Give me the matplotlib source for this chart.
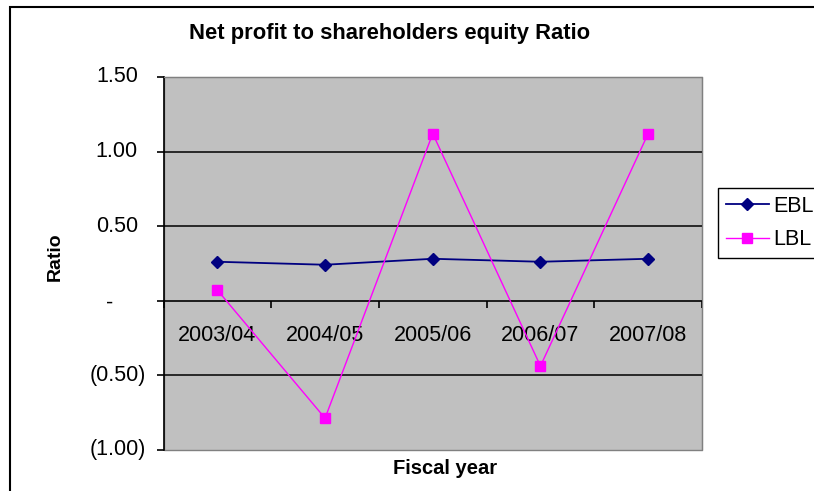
import matplotlib
matplotlib.use("Agg")
import matplotlib.pyplot as plt
from matplotlib.patches import Rectangle
from matplotlib.transforms import offset_copy, blended_transform_factory

plt.rcParams['font.family'] = ['Liberation Sans', 'DejaVu Sans']

years = ["2003/04", "2004/05", "2005/06", "2006/07", "2007/08"]
ebl = [0.26, 0.24, 0.28, 0.26, 0.28]
lbl = [0.07, -0.79, 1.12, -0.44, 1.12]
yticks = [-1.0, -0.5, 0.0, 0.5, 1.0, 1.5]


def acct(v):
    # excel accounting style labels
    if v == 0:
        return "-"
    if v < 0:
        return "(%.2f)" % abs(v)
    return "%.2f" % v


W, H = 814, 491
fig = plt.figure(figsize=(W / 100, H / 100), dpi=100)
ax = fig.add_axes([163.5 / W, 1 - 449.5 / H, (702 - 163.5) / W, (449.5 - 77) / H])

x = list(range(len(years)))
ax.plot(x, ebl, color="#000080", lw=1.3, marker="D", ms=6.5, label="EBL", zorder=4)
ax.plot(x, lbl, color="#FF00FF", lw=1.0, marker="s", ms=6.5, label="LBL", zorder=4)

ax.set_xlim(-0.5, len(years) - 0.5)
ax.set_ylim(-1.0, 1.5)
ax.set_facecolor("#C0C0C0")
ax.patch.set_edgecolor("#808080")
ax.patch.set_linewidth(1.0)

for v in [-0.5, 0.5, 1.0]:
    ax.axhline(v, color="black", lw=1.1, zorder=1)

for s in ["top", "right"]:
    ax.spines[s].set_color("#808080")
ax.spines["left"].set_color("black")
ax.spines["left"].set_linewidth(1.2)
ax.spines["bottom"].set_position(("data", 0))
ax.spines["bottom"].set_color("black")
ax.spines["bottom"].set_linewidth(1.2)
ax.spines["bottom"].set_zorder(2)

# y ticks with accounting labels drawn by hand
ax.set_yticks(yticks)
ax.set_yticklabels([])
ax.tick_params(axis="y", direction="out", length=5, width=1.2, color="black")
ytr = blended_transform_factory(ax.transAxes, ax.transData)
for v in yticks:
    lab = acct(v)
    if v == 0:
        tr = offset_copy(ytr, fig=fig, x=-38.5, y=-2, units="points")
        ax.text(0, v, lab, transform=tr, ha="center", va="center", fontsize=15.5)
    elif v < 0:
        tr = offset_copy(ytr, fig=fig, x=-12.6, y=0, units="points")
        ax.text(0, v, lab, transform=tr, ha="right", va="center", fontsize=15.5)
    else:
        tr = offset_copy(ytr, fig=fig, x=-18.4, y=0, units="points")
        ax.text(0, v, lab, transform=tr, ha="right", va="center", fontsize=15.5)

# category axis: ticks between categories, labels centered
ax.set_xticks([i - 0.5 for i in range(len(years) + 1)])
ax.set_xticklabels([])
ax.tick_params(axis="x", direction="out", length=5, width=1.2, color="black")
for i, yr in enumerate(years):
    tr = offset_copy(ax.transData, fig=fig, x=0, y=-25.5, units="points")
    ax.text(i, 0, yr, transform=tr, ha="center", va="center", fontsize=15.5)

fig.text(390 / W, 1 - 33 / H, "Net profit to shareholders equity Ratio",
         ha="center", va="center", fontsize=15.8, fontweight="bold")
fig.text(55 / W, 1 - 257 / H, "Ratio", rotation=90, ha="center", va="center",
         fontsize=14, fontweight="bold")
fig.text(445 / W, 1 - 469 / H, "Fiscal year", ha="center", va="center",
         fontsize=14.5, fontweight="bold")

leg = ax.legend(loc="upper left", bbox_to_anchor=(718 / W, 1 - 188 / H),
                bbox_transform=fig.transFigure, fontsize=15.5, frameon=True,
                fancybox=False, edgecolor="black", framealpha=1,
                handlelength=2.0, handletextpad=0.2, labelspacing=0.6,
                borderpad=0.35, borderaxespad=0)
leg.get_frame().set_linewidth(1.0)

# outer chart border (clipped at right and bottom like the original)
fig.add_artist(Rectangle((9.5 / W, -0.1), 1.2, 1.1 - 6.7 / H, transform=fig.transFigure,
                         fill=False, edgecolor="black", lw=1.5))

fig.savefig("out.png", dpi=100)
